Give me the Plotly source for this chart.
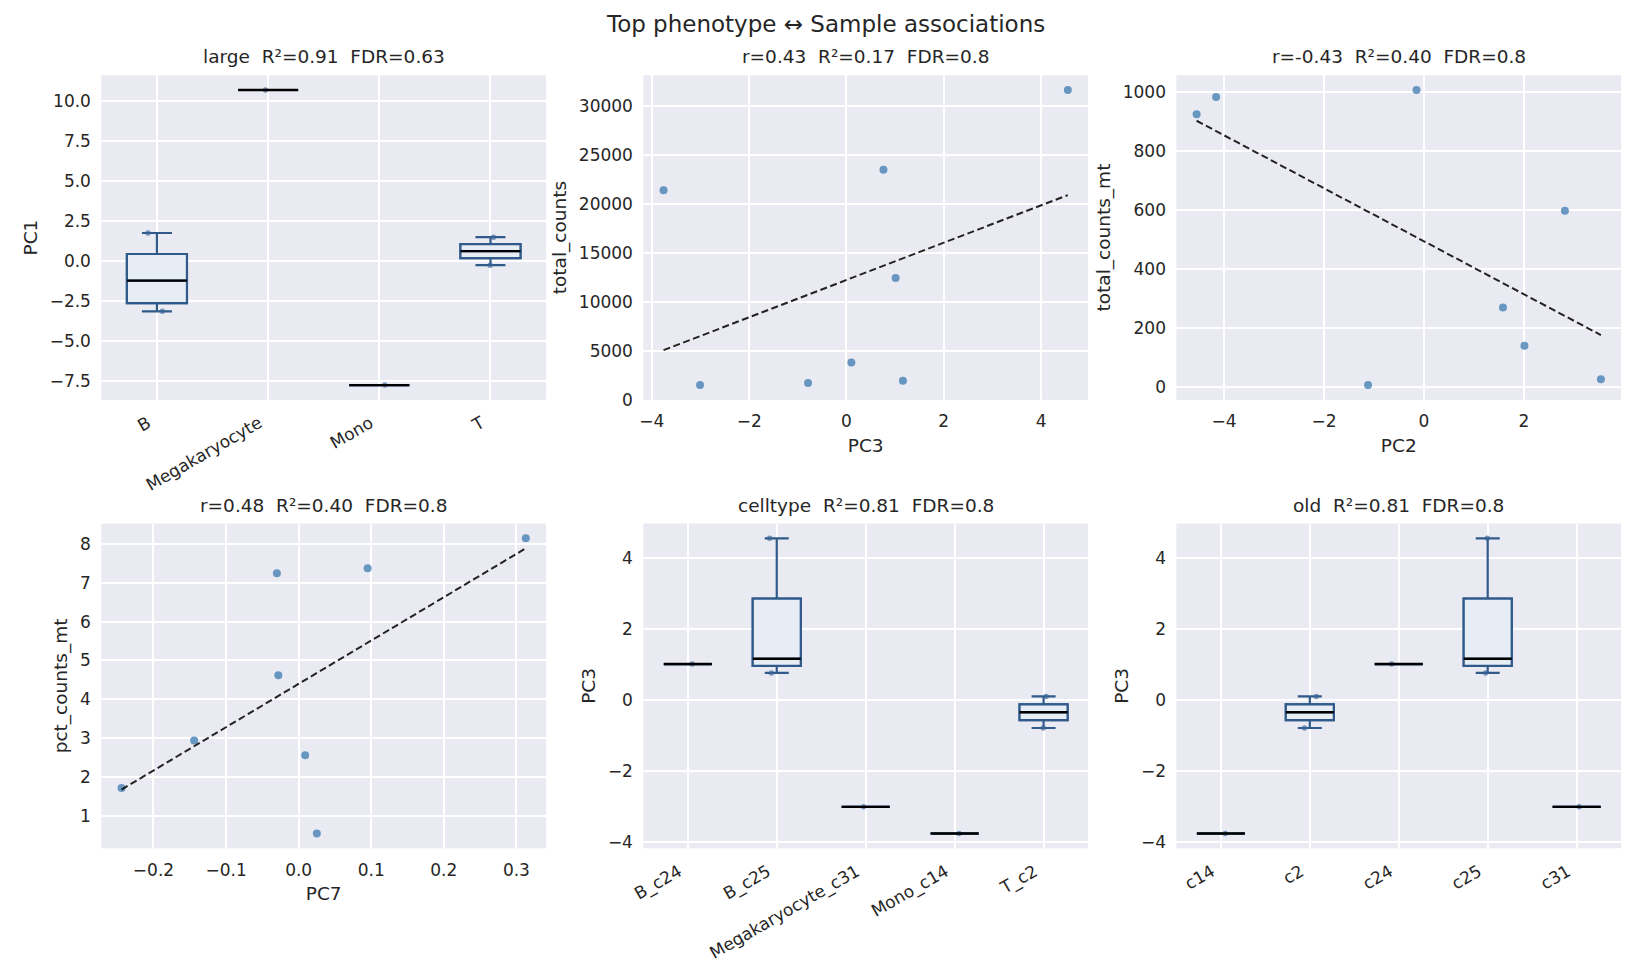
import numpy as np
import plotly.graph_objects as go

# ---------------- data ----------------
suptitle = "Top phenotype \u2194 Sample associations"
titles = [
    "large  R\u00b2=0.91  FDR=0.63",
    "r=0.43  R\u00b2=0.17  FDR=0.8",
    "r=-0.43  R\u00b2=0.40  FDR=0.8",
    "r=0.48  R\u00b2=0.40  FDR=0.8",
    "celltype  R\u00b2=0.81  FDR=0.8",
    "old  R\u00b2=0.81  FDR=0.8",
]

# panel 1: PC1 by large cell type
large_labels = ["B", "Megakaryocyte", "Mono", "T"]
large_pc1 = [[-3.16, -2.47, -0.01, 1.74], [10.68], [-7.77], [-0.27, 1.48]]

# panel 2: PC3 vs total_counts
pc3 = [-3.76, -3.01, -0.79, 0.10, 0.76, 1.01, 1.16, 4.55]
total_counts = [21400, 1480, 1690, 3780, 23500, 12440, 1920, 31650]

# panel 3: PC2 vs total_counts_mt
pc2 = [-4.55, -4.16, -1.12, -0.15, 1.58, 2.01, 2.82, 3.54]
total_counts_mt = [926, 984, 8, 1008, 271, 141, 599, 28]

# panel 4: PC7 vs pct_counts_mt
pc7 = [-0.244, -0.144, -0.030, -0.028, 0.009, 0.025, 0.095, 0.313]
pct_counts_mt = [1.72, 2.94, 7.24, 4.62, 2.56, 0.55, 7.37, 8.14]

# panel 5: PC3 by celltype
celltype_labels = ["B_c24", "B_c25", "Megakaryocyte_c31", "Mono_c14", "T_c2"]
celltype_pc3 = [[1.01], [0.76, 1.16, 4.55], [-3.01], [-3.76], [-0.79, 0.10]]

# panel 6: PC3 by old cluster
old_labels = ["c14", "c2", "c24", "c25", "c31"]
old_pc3 = [[-3.76], [-0.79, 0.10], [1.01], [0.76, 1.16, 4.55], [-3.01]]

# ---------------- style ----------------
W, H = 1638, 978
BG = "#eaeaf2"
TXT = "#262626"
EDGE = "#2f5a8a"
FILL = "#e7edf5"
PT_BOX = "rgba(58,100,150,0.65)"
PT_SC = "rgba(70,130,180,0.8)"
BW = 0.54
FONT = "DejaVu Sans"
TICK = 17
LAB = 18.5

cols = [(90, 538), (636, 1084), (1173, 1621)]
rows = [(76, 404), (529, 857)]


def dom_x(c):
    return [cols[c][0] / W, cols[c][1] / W]


def dom_y(r):
    return [1 - rows[r][1] / H, 1 - rows[r][0] / H]


fig = go.Figure()


def axnames(i):
    return ("x" if i == 1 else f"x{i}"), ("y" if i == 1 else f"y{i}")


def pad_range(vals):
    lo, hi = float(np.min(vals)), float(np.max(vals))
    m = (hi - lo) * 0.05
    return [lo - m, hi + m]


def box_panel(i, labels, groups):
    xa, ya = axnames(i)
    pos = np.arange(len(labels))
    q1 = [float(np.percentile(g, 25)) for g in groups]
    med = [float(np.median(g)) for g in groups]
    q3 = [float(np.percentile(g, 75)) for g in groups]
    lo = [float(np.min(g)) for g in groups]
    hi = [float(np.max(g)) for g in groups]
    common = dict(xaxis=xa, yaxis=ya, showlegend=False, hoverinfo="skip", width=BW)
    # whiskers + caps + box
    fig.add_trace(go.Box(x=pos, q1=q1, median=med, q3=q3, lowerfence=lo, upperfence=hi,
                         whiskerwidth=0.5, fillcolor=FILL, line=dict(color=EDGE, width=2.2),
                         boxpoints=False, **common))
    # sample points
    xs = np.concatenate([[p] * len(g) for p, g in zip(pos, groups)])
    ys = np.concatenate([g for g in groups])
    fig.add_trace(go.Box(x=xs, y=ys, boxpoints="all", jitter=0.35, pointpos=0,
                         fillcolor="rgba(0,0,0,0)", line=dict(width=0, color="rgba(0,0,0,0)"),
                         whiskerwidth=0, marker=dict(size=5.5, color=PT_BOX), **common))
    # box body on top of points
    fig.add_trace(go.Box(x=pos, q1=q1, median=med, q3=q3, lowerfence=q1, upperfence=q3,
                         whiskerwidth=0, fillcolor=FILL, line=dict(color=EDGE, width=2.2),
                         boxpoints=False, **common))
    # black median lines
    mx, my = [], []
    for p, m in zip(pos, med):
        mx += [p - BW / 2, p + BW / 2, None]
        my += [m, m, None]
    fig.add_trace(go.Scatter(x=mx, y=my, mode="lines", line=dict(color="black", width=2.4),
                             xaxis=xa, yaxis=ya, showlegend=False, hoverinfo="skip"))
    allv = np.concatenate([g for g in groups])
    return dict(tickvals=list(pos), ticktext=labels, range=[-0.5, len(labels) - 0.5],
                tickangle=-30, ticklabelshift=-9), dict(range=pad_range(allv))


def scatter_panel(i, x, y):
    xa, ya = axnames(i)
    x = np.asarray(x, float)
    y = np.asarray(y, float)
    b, a = np.polyfit(x, y, 1)
    xl = np.array([x.min(), x.max()])
    fig.add_trace(go.Scatter(x=x, y=y, mode="markers",
                             marker=dict(size=8, color=PT_SC, line=dict(width=0)),
                             xaxis=xa, yaxis=ya, showlegend=False, hoverinfo="skip"))
    fig.add_trace(go.Scatter(x=xl, y=a + b * xl, mode="lines",
                             line=dict(color="rgba(0,0,0,0.85)", width=2, dash="7px,3.5px"),
                             xaxis=xa, yaxis=ya, showlegend=False, hoverinfo="skip"))
    return dict(range=pad_range(x)), dict(range=pad_range(y))


axes = {}
axes[1] = box_panel(1, large_labels, large_pc1)
axes[2] = scatter_panel(2, pc3, total_counts)
axes[3] = scatter_panel(3, pc2, total_counts_mt)
axes[4] = scatter_panel(4, pc7, pct_counts_mt)
axes[5] = box_panel(5, celltype_labels, celltype_pc3)
axes[6] = box_panel(6, old_labels, old_pc3)

xtitles = {1: "", 2: "PC3", 3: "PC2", 4: "PC7", 5: "", 6: ""}
ytitles = {1: "PC1", 2: "total_counts", 3: "total_counts_mt", 4: "pct_counts_mt", 5: "PC3", 6: "PC3"}
xticks = {2: dict(dtick=2), 3: dict(dtick=2), 4: dict(dtick=0.1, tickformat=".1f")}
yticks = {1: dict(dtick=2.5, tickformat=".1f"), 2: dict(dtick=5000, tickformat="d"),
          3: dict(dtick=200), 4: dict(dtick=1), 5: dict(dtick=2), 6: dict(dtick=2)}

base = dict(showgrid=True, gridcolor="white", gridwidth=1.6, zeroline=False, showline=False,
            ticks="outside", ticklen=6, tickcolor="rgba(0,0,0,0)",
            tickfont=dict(size=TICK, color=TXT, family=FONT))

layout = dict(width=W, height=H, margin=dict(l=0, r=0, t=0, b=0),
              paper_bgcolor="white", plot_bgcolor=BG,
              font=dict(family=FONT, color=TXT), showlegend=False, boxmode="overlay")

annotations = [dict(text=suptitle, x=0.5, y=1 - 39 / H, xref="paper", yref="paper",
                    xanchor="center", yanchor="bottom", showarrow=False,
                    font=dict(size=23, color=TXT, family=FONT))]

for i in range(1, 7):
    r = 0 if i <= 3 else 1
    c = (i - 1) % 3
    xd, yd = dom_x(c), dom_y(r)
    xkw, ykw = axes[i]
    xa = dict(base, domain=xd, anchor=("y" if i == 1 else f"y{i}"), **xkw, **xticks.get(i, {}))
    ya = dict(base, domain=yd, anchor=("x" if i == 1 else f"x{i}"), **ykw, **yticks.get(i, {}))
    if xtitles[i]:
        xa["title"] = dict(text=xtitles[i], font=dict(size=LAB, color=TXT, family=FONT), standoff=8)
    ya["title"] = dict(text=ytitles[i], font=dict(size=LAB, color=TXT, family=FONT), standoff=7)
    layout["xaxis" if i == 1 else f"xaxis{i}"] = xa
    layout["yaxis" if i == 1 else f"yaxis{i}"] = ya
    annotations.append(dict(text=titles[i - 1], x=(xd[0] + xd[1]) / 2, y=yd[1],
                            xref="paper", yref="paper", xanchor="center", yanchor="bottom",
                            yshift=6, showarrow=False,
                            font=dict(size=18.5, color=TXT, family=FONT)))

layout["annotations"] = annotations
fig.update_layout(**layout)
fig.write_html("out.html")
